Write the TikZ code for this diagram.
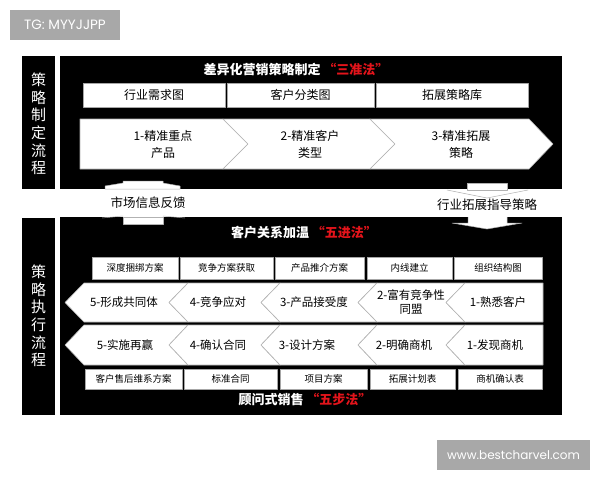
\documentclass[tikz,border=0pt]{standalone}
\usepackage{fontspec}
\setmainfont{Noto Sans CJK SC}
\newfontfamily\markfont{Poppins}
\definecolor{markgray}{HTML}{A8A8A8}
\definecolor{lawred}{HTML}{E3141B}
\tikzset{
  cell/.style={draw=gray!70, fill=white, inner sep=0pt, font=\fontsize{12}{14}\selectfont},
  smallcell/.style={cell, font=\fontsize{9.5}{11}\selectfont},
  chev/.style={fill=white, draw=gray!60, line width=0.6pt},
  steptext/.style={align=center, font=\fontsize{12}{17}\selectfont},
  lowtext/.style={align=center, font=\fontsize{11.5}{14}\selectfont},
  sidetext/.style={text=white, align=center, font=\fontsize{15}{17.6}\selectfont},
  headline/.style={text=white, font=\bfseries\fontsize{13}{15}\selectfont},
  markbox/.style={fill=markgray, text=white, inner sep=0pt, font=\markfont\fontsize{11.5}{13}\selectfont},
  arrowpart/.style={fill=white, draw=gray!60, line width=0.5pt}
}
\begin{document}
\begin{tikzpicture}[x=1pt, y=-1pt, line join=round]
\useasboundingbox[fill=white] (0,0) rectangle (600,480);
% watermarks
\node[markbox, minimum width=110pt, minimum height=30pt, font=\markfont\fontsize{13.5}{15}\selectfont] (tg) at (65,25) {TG: MYYJJPP};
\node[markbox, minimum width=153pt, minimum height=30pt, font=\markfont\fontsize{12}{14}\selectfont] (site) at (513.5,455) {www.bestcharvel.com};
% upper block
\fill (22,56) rectangle (55,189);
\fill (60,56) rectangle (562,189);
\node[sidetext] (plan) at (38.5,124) {策\\略\\制\\定\\流\\程};
\node[headline] (t1) at (296,69) {差异化营销策略制定\ \textcolor{lawred}{“三准法”}};
\node[cell, minimum width=142pt, minimum height=24pt] (need) at (154,95) {行业需求图};
\node[cell, minimum width=147pt, minimum height=24pt] (sort) at (300.5,95) {客户分类图};
\node[cell, minimum width=152pt, minimum height=24pt] (lib) at (452,95) {拓展策略库};
\filldraw[chev] (80,119) -- (223,119) -- (248,144) -- (223,169) -- (80,169) -- cycle;
\filldraw[chev] (223,119) -- (370,119) -- (395,144) -- (370,169) -- (223,169) -- (248,144) -- cycle;
\filldraw[chev] (370,119) -- (529,119) -- (553,144) -- (529,169) -- (370,169) -- (395,144) -- cycle;
\node[steptext] (s1) at (163,144) {1-精准重点\\产品};
\node[steptext] (s2) at (310,144) {2-精准客户\\类型};
\node[steptext] (s3) at (461,144) {3-精准拓展\\策略};
% arrows between the blocks
\filldraw[arrowpart] (105,189) -- (105,186) -- (123,183) -- (123,181) -- (163,181) -- (163,183) -- (180,186) -- (180,189) -- cycle;
\filldraw[arrowpart] (467,183) rectangle (507,190);
\draw[gray!60, line width=0.5pt] (447,190) -- (487,198) -- (528,190);
\node[font=\fontsize{12.5}{14}\selectfont] (feedback) at (148,203) {市场信息反馈};
\node[font=\fontsize{12.5}{14}\selectfont] (guide) at (487,205) {行业拓展指导策略};
% lower block
\fill (22,218) rectangle (55,415);
\fill (60,217) rectangle (562,415);
\draw[gray!60, line width=0.5pt] (102,218) -- (123,216) (163,216) -- (185,218);
\filldraw[arrowpart] (123,217) rectangle (163,224);
\filldraw[arrowpart] (468,217) -- (468,223) -- (452,223) -- (487,229) -- (522,223) -- (507,223) -- (507,217);
\node[sidetext] (act) at (38.5,316) {策\\略\\执\\行\\流\\程};
\node[headline] (t2) at (304,233) {客户关系加温\ \textcolor{lawred}{“五进法”}};
\node[headline] (t3) at (305,400) {顾问式销售\ \textcolor{lawred}{“五步法”}};
\node[smallcell, minimum width=86pt, minimum height=22pt] (u1) at (135,268) {深度捆绑方案};
\node[smallcell, minimum width=93pt, minimum height=22pt] (u2) at (226.5,268) {竞争方案获取};
\node[smallcell, minimum width=89pt, minimum height=22pt] (u3) at (319.5,268) {产品推介方案};
\node[smallcell, minimum width=85pt, minimum height=22pt] (u4) at (409.5,268) {内线建立};
\node[smallcell, minimum width=88pt, minimum height=22pt] (u5) at (498,268) {组织结构图};
\foreach \ya/\yb in {283/322, 325/365}{
  \foreach \a/\b in {65/169, 169/261, 261/358, 358/446}
    \filldraw[chev] (\a,{(\ya+\yb)/2}) -- (\a+19,\ya) -- (\b+19,\ya) -- (\b,{(\ya+\yb)/2}) -- (\b+19,\yb) -- (\a+19,\yb) -- cycle;
  \filldraw[chev] (446,{(\ya+\yb)/2}) -- (465,\ya) -- (543,\ya) -- (543,\yb) -- (465,\yb) -- cycle;
}
\node[lowtext] (r5) at (124,302.5) {5-形成共同体};
\node[lowtext] (r4) at (218,302.5) {4-竞争应对};
\node[lowtext] (r3) at (314,302.5) {3-产品接受度};
\node[lowtext] (r2) at (411,302.5) {2-富有竞争性\\同盟};
\node[lowtext] (r1) at (498,302.5) {1-熟悉客户};
\node[lowtext] (d5) at (125,345) {5-实施再赢};
\node[lowtext] (d4) at (218,345) {4-确认合同};
\node[lowtext] (d3) at (307,345) {3-设计方案};
\node[lowtext] (d2) at (404,345) {2-明确商机};
\node[lowtext] (d1) at (495,345) {1-发现商机};
\node[smallcell, minimum width=97pt, minimum height=20pt] (b1) at (133.5,379) {客户售后维系方案};
\node[smallcell, minimum width=93pt, minimum height=20pt] (b2) at (230.5,379) {标准合同};
\node[smallcell, minimum width=87pt, minimum height=20pt] (b3) at (323.5,379) {项目方案};
\node[smallcell, minimum width=85pt, minimum height=20pt] (b4) at (412.5,379) {拓展计划表};
\node[smallcell, minimum width=84pt, minimum height=20pt] (b5) at (500,379) {商机确认表};
\end{tikzpicture}
\end{document}
